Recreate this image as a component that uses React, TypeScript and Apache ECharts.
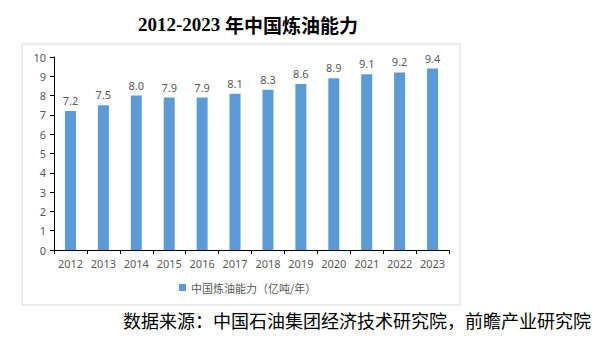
import React, { useEffect, useRef } from "react";
import * as echarts from "echarts";

const categories = ["2012", "2013", "2014", "2015", "2016", "2017", "2018", "2019", "2020", "2021", "2022", "2023"];
const capacity = [7.2, 7.5, 8.0, 7.9, 7.9, 8.1, 8.3, 8.6, 8.9, 9.1, 9.2, 9.4];
const seriesName = "中国炼油能力（亿吨/年）";
const titleYears = "2012-2023 ";
const titleText = "年中国炼油能力";
const sourceText = "数据来源：中国石油集团经济技术研究院，前瞻产业研究院";

export default function App() {
  const ref = useRef<HTMLDivElement>(null);
  useEffect(() => {
    if (!ref.current) return;
    const chart = echarts.init(ref.current, null, { renderer: "svg" });
    chart.setOption({
      animation: false,
      backgroundColor: "#ffffff",
      title: {
        text: `{a|${titleYears}}{b|${titleText}}`,
        left: 243,
        textAlign: "center",
        top: 10,
        textStyle: {
          rich: {
            a: { fontFamily: "Liberation Serif", fontWeight: "bold", fontSize: 19, color: "#000" },
            b: { fontFamily: "Noto Sans CJK SC", fontWeight: "bold", fontSize: 19, color: "#000" },
          },
        },
      },
      graphic: [
        {
          type: "rect",
          shape: { x: 22, y: 44, width: 438, height: 261 },
          style: { fill: "none", stroke: "#d9d9d9", lineWidth: 1 },
          z: -1,
        },
        {
          type: "text",
          x: 123,
          y: 320,
          style: {
            text: sourceText,
            fontSize: 18,
            fontFamily: "Noto Sans CJK SC",
            fill: "#000",
            verticalAlign: "middle",
          },
        },
      ],
      legend: {
        data: [seriesName],
        left: 174,
        top: 277,
        icon: "rect",
        itemWidth: 7,
        itemHeight: 7,
        itemGap: 4,
        textStyle: { color: "#595959", fontSize: 11, fontFamily: "Noto Sans CJK SC" },
      },
      grid: { left: 54, right: 151, top: 57, bottom: 102 },
      xAxis: {
        type: "category",
        data: categories,
        axisLine: { lineStyle: { color: "#000", width: 1 } },
        axisTick: { show: true, length: 4, lineStyle: { color: "#000" }, alignWithLabel: false },
        axisLabel: { color: "#595959", fontSize: 11, fontFamily: "Noto Sans", margin: 8 },
      },
      yAxis: {
        type: "value",
        min: 0,
        max: 10,
        interval: 1,
        axisLine: { show: true, lineStyle: { color: "#000", width: 1 } },
        axisTick: { show: true, length: 4, lineStyle: { color: "#000" } },
        splitLine: { show: false },
        axisLabel: { color: "#595959", fontSize: 11, fontFamily: "Noto Sans", margin: 8 },
      },
      series: [
        {
          name: seriesName,
          type: "bar",
          data: capacity,
          barWidth: 11,
          itemStyle: { color: "#5B9BD5" },
          label: {
            show: true,
            position: "top",
            distance: 5,
            color: "#595959",
            fontSize: 11,
            fontFamily: "Noto Sans",
            formatter: (p: any) => Number(p.value).toFixed(1),
          },
        },
      ],
    });
    return () => chart.dispose();
  }, []);
  return <div ref={ref} style={{ position: "fixed", left: 0, top: 0, width: 600, height: 352 }} />;
}
